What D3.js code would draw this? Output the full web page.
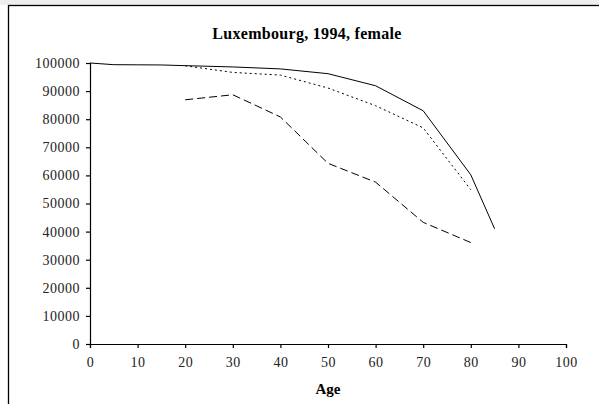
<!DOCTYPE html>
<html>
<head>
<meta charset="utf-8">
<script src="https://cdn.jsdelivr.net/npm/d3@7"></script>
<style>
  body { margin: 0; background: #fff; }
  svg { display: block; font-family: "Liberation Serif", "DejaVu Serif", serif; }
</style>
</head>
<body>
<div id="chart"></div>
<script>
// survivors by age, three series
const solidAges = [0, 5, 10, 15, 20, 30, 40, 50, 60, 70, 80, 85];
const solidValues = [100000, 99400, 99350, 99300, 99050, 98600, 97900, 96200, 91900, 83000, 60200, 41000];

const dottedAges = [20, 30, 40, 50, 60, 70, 80];
const dottedValues = [99000, 96650, 95700, 91100, 84800, 76900, 54900];

const dashedAges = [20, 30, 40, 50, 60, 70, 80];
const dashedValues = [86900, 88700, 80800, 64300, 57600, 43300, 36100];

const xTicks = [0, 10, 20, 30, 40, 50, 60, 70, 80, 90, 100];
const yTicks = [0, 10000, 20000, 30000, 40000, 50000, 60000, 70000, 80000, 90000, 100000];

const W = 599, H = 404;
const margin = { top: 63, right: 33, bottom: 60, left: 90 };
const width = 566 - margin.left;
const height = 344 - margin.top;

const svg = d3.select('#chart')
  .append('svg')
  .attr('width', W)
  .attr('height', H);

// outer frame (runs off the right and bottom edge)
svg.append('rect')
  .attr('x', 0).attr('y', 0).attr('width', W).attr('height', 5)
  .attr('fill', '#eeeeee');
svg.append('rect')
  .attr('x', 8.5).attr('y', 5.5)
  .attr('width', W + 10).attr('height', H + 10)
  .attr('fill', '#fff')
  .attr('stroke', '#000')
  .attr('stroke-width', 1.3);

const g = svg.append('g')
  .attr('transform', `translate(${margin.left}, ${margin.top})`);

const x = d3.scaleLinear().domain([0, 100]).range([0, width]);
const y = d3.scaleLinear().domain([0, 100000]).range([height, 0]);

// axes
const xAxis = g.append('g')
  .attr('transform', `translate(0, ${height})`)
  .call(d3.axisBottom(x).tickValues(xTicks).tickSize(4).tickPadding(9).tickFormat(d3.format('d')));

const yAxis = g.append('g')
  .call(d3.axisLeft(y).tickValues(yTicks).tickSize(4).tickPadding(6).tickFormat(d3.format('d')));

[xAxis, yAxis].forEach(a => {
  a.selectAll('path').attr('stroke', '#000').attr('stroke-width', 1.2);
  a.selectAll('line').attr('stroke', '#000').attr('stroke-width', 1.2);
  a.selectAll('text')
    .attr('fill', '#222')
    .style('font-family', '"Liberation Serif", serif')
    .style('font-size', '14px')
    .style('letter-spacing', '0.5px');
});

// lines
const series = [
  { ages: solidAges, values: solidValues, dash: null },
  { ages: dottedAges, values: dottedValues, dash: '2,3' },
  { ages: dashedAges, values: dashedValues, dash: '8,4' }
];

const line = d3.line()
  .x(d => x(d[0]))
  .y(d => y(d[1]));

series.forEach(s => {
  g.append('path')
    .datum(d3.zip(s.ages, s.values))
    .attr('d', line)
    .attr('fill', 'none')
    .attr('stroke', '#000')
    .attr('stroke-width', 1)
    .attr('stroke-dasharray', s.dash);
});

// title
svg.append('text')
  .attr('x', 307)
  .attr('y', 39)
  .attr('text-anchor', 'middle')
  .style('font-size', '16px')
  .style('font-weight', 'bold')
  .style('letter-spacing', '0.3px')
  .text('Luxembourg, 1994, female');

// x axis label
svg.append('text')
  .attr('x', 328)
  .attr('y', 394)
  .attr('text-anchor', 'middle')
  .style('font-size', '15px')
  .style('font-weight', 'bold')
  .text('Age');
</script>
</body>
</html>
